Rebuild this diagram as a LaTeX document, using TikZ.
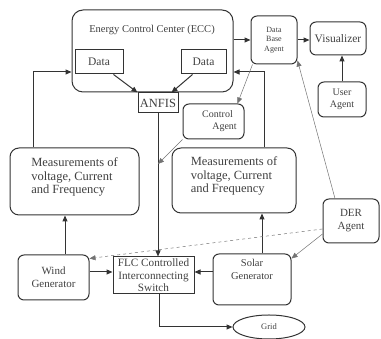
\documentclass[tikz,border=0pt]{standalone}
\usepackage{fontspec}
\setmainfont{Liberation Serif}
\usetikzlibrary{arrows.meta,shapes.geometric}

\begin{document}
\begin{tikzpicture}[x=1pt,y=1pt,
    box/.style={draw=black!80,line width=1pt,rounded corners=6pt,inner sep=1pt,align=center,text=black!75},
    sqbox/.style={box,rounded corners=0pt},
    arr/.style={-{Triangle[length=6pt,width=5pt]},line width=1pt,draw=black!80},
    thinarr/.style={-{Triangle[length=6pt,width=5pt]},line width=0.5pt,draw=black!55}]

        \useasboundingbox (0,0) rectangle (381,339);

        %%% ECC %%%
        \node[box,rounded corners=11pt,minimum width=161pt,minimum height=82pt] (ecc) at (152.5,288) {};
        \node[text=black!75,font=\fontsize{10.5}{12}\selectfont] (ecctitle) at (152,309) {Energy Control Center (ECC)};
        \node[sqbox,minimum width=48pt,minimum height=24pt,font=\fontsize{11.5}{13}\selectfont] (dataL) at (99,277) {Data};
        \node[sqbox,minimum width=45pt,minimum height=24pt,font=\fontsize{11.5}{13}\selectfont] (dataR) at (203.5,277) {Data};
        \node[sqbox,minimum width=40pt,minimum height=20pt,font=\fontsize{12.5}{14}\selectfont] (anfis) at (158,236) {ANFIS};

        %%% agents %%%
        \node[box,minimum width=46pt,minimum height=48pt,font=\fontsize{8}{9.5}\selectfont] (dba) at (274,299) {Data\\Base\\Agent};
        \node[box,minimum width=56pt,minimum height=33pt,font=\fontsize{11.5}{13}\selectfont] (vis) at (338,300.5) {Visualizer};
        \node[box,minimum width=48pt,minimum height=35pt,font=\fontsize{10}{12}\selectfont] (user) at (342,239.5) {User\\Agent};
        \node[box,minimum width=61pt,minimum height=35pt,font=\fontsize{10}{12}\selectfont] (ctrl) at (213.5,217.5) {\hspace*{8pt}Control\\\hspace*{22pt}Agent};
        \node[box,minimum width=56pt,minimum height=44pt,font=\fontsize{11}{13}\selectfont] (der) at (351,118) {DER\\Agent};

        %%% measurements %%%
        \node[box,rounded corners=9pt,minimum width=129pt,minimum height=67pt,align=left,font=\fontsize{12.5}{13.5}\selectfont] (measL) at (74.5,157.5) {Measurements of\\voltage, Current\\and Frequency\\[-2pt]};
        \node[box,rounded corners=9pt,minimum width=124pt,minimum height=65pt,align=left,font=\fontsize{12.5}{13.5}\selectfont] (measR) at (234,158.5) {Measurements of\\voltage, Current\\and Frequency\\[-2pt]};

        %%% generators, switch, grid %%%
        \node[box,minimum width=71pt,minimum height=45pt,font=\fontsize{11}{13}\selectfont] (wind) at (53.5,61.5) {Wind\\Generator};
        \node[sqbox,minimum width=81pt,minimum height=37pt,font=\fontsize{11.2}{12.5}\selectfont] (flc) at (153.5,63.5) {FLC Controlled\\Interconnecting\\Switch};
        \node[box,minimum width=78pt,minimum height=51pt,font=\fontsize{10.5}{12.5}\selectfont] (solar) at (252,59.5) {Solar\\Generator\\[8pt]};
        \node[ellipse,draw=black!80,line width=1pt,minimum width=72pt,minimum height=24pt,inner sep=0pt,text=black!75,font=\fontsize{8.5}{10}\selectfont] (grid) at (269,12) {Grid};

        %%% connectors %%%
        \draw[arr] ([xshift=-10pt]dataL.south east) -- (anfis.north west);
        \draw[arr] ([xshift=12pt]dataR.south west) -- ([xshift=-7pt]anfis.north east);
        \draw[arr] (anfis.south) -- (anfis.south |- flc.north);
        \draw[arr] (ecc.east |- dba.west) -- (dba.west);
        \draw[arr] (dba.east) -- (dba.east -| vis.west);
        \draw[arr] (user.north) -- (user.north |- vis.south);
        \draw[arr] ([xshift=-41.5pt]measL.north) |- ([yshift=-21pt]ecc.west);
        \draw[arr] ([xshift=30pt]measR.north) |- ([yshift=-21pt]ecc.east);
        \draw[arr] ([xshift=11.5pt]wind.north) -- ([xshift=11.5pt]wind.north |- measL.south);
        \draw[arr] ([xshift=10pt]solar.north) -- ([xshift=10pt]solar.north |- measR.south);
        \draw[arr] ([yshift=5.5pt]wind.east) -- ([yshift=5.5pt]wind.east -| flc.west);
        \draw[arr] ([yshift=7.5pt]solar.west) -- ([yshift=7.5pt]solar.west -| flc.east);
        \draw[arr] ([xshift=6pt]flc.south) |- (grid.west);

        %%% agent links %%%
        \coordinate (hit) at (158,175);
        \draw[thinarr] ([xshift=2pt]dba.south west) -- ([xshift=-7pt]ctrl.north east);
        \draw[thinarr] (ctrl.south west) -- (hit);
        \draw[thinarr] ([xshift=-16pt]der.north) -- ([yshift=4pt]dba.south east);
        \draw[thinarr] ([yshift=-13pt]der.west) -- ([yshift=-5pt]solar.north east);
        \draw[thinarr,dashed] ([yshift=-8pt]der.west) -- ([yshift=-4pt]wind.north east);

      \end{tikzpicture}
\end{document}
